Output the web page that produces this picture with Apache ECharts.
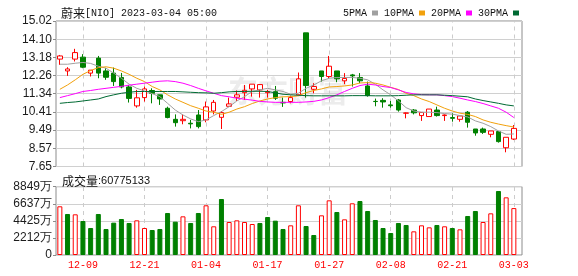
<!DOCTYPE html>
<html><head><meta charset="utf-8">
<script src="https://cdn.jsdelivr.net/npm/echarts@6.0.0/dist/echarts.min.js"></script>
<style>html,body{margin:0;padding:0;background:#fff}#c{width:578px;height:276px}</style>
</head><body><div id="c"></div>
<script>
const dates = ['12-06','12-07','12-08','12-09','12-12','12-13','12-14','12-15','12-16','12-19','12-20','12-21','12-22','12-23','12-27','12-28','12-29','12-30',
'01-03','01-04','01-05','01-06','01-09','01-10','01-11','01-12','01-13','01-17','01-18','01-19','01-20','01-23','01-24','01-25','01-26','01-27','01-30','01-31',
'02-01','02-02','02-03','02-06','02-07','02-08','02-09','02-10','02-13','02-14','02-15','02-16','02-17','02-21','02-22','02-23','02-24','02-27','02-28',
'03-01','03-02','03-03'];
const openP  = [13.09,12.49,13.09,13.19,12.38,13.14,12.49,12.38,12.16,11.68,10.72,11.14,11.50,11.28,10.60,10.04,9.97,9.84,10.26,10.01,
10.46,10.14,10.70,11.16,11.39,11.58,11.53,11.39,11.44,10.90,10.94,11.28,14.42,11.56,12.49,12.21,12.49,11.99,12.29,12.16,
11.73,10.95,11.00,10.77,11.02,10.35,10.51,10.23,10.18,10.51,10.23,10.13,10.04,10.40,9.55,9.55,9.28,9.42,8.60,9.04];
const closeP = [13.25,12.59,13.42,12.68,12.53,12.38,12.17,11.95,11.68,11.10,11.13,11.58,11.36,11.07,10.13,9.87,10.04,9.81,9.67,10.67,
10.90,10.38,10.82,11.28,11.51,11.82,11.80,11.44,11.11,10.87,11.14,12.09,11.75,11.70,12.21,12.73,12.09,12.11,12.24,11.99,
11.24,10.94,10.92,10.73,10.51,10.36,10.37,10.39,10.56,10.23,10.26,10.09,10.21,9.89,9.35,9.38,9.45,8.91,9.13,9.58];
const lowP   = [12.80,12.24,12.97,12.63,12.21,12.12,12.04,11.73,11.61,10.89,10.63,10.94,10.85,10.77,10.09,9.67,9.79,9.58,9.58,9.89,
10.29,9.55,10.70,10.97,11.02,11.19,11.14,11.14,11.02,10.67,10.85,11.24,11.14,11.36,11.95,12.09,11.92,11.82,11.70,11.87,
11.19,10.70,10.63,10.63,10.43,10.09,10.29,9.96,10.18,10.18,9.96,9.92,9.92,9.62,9.21,9.30,9.13,8.86,8.37,8.99];
const highP  = [13.30,12.68,13.61,13.34,12.53,13.25,12.63,12.66,12.39,11.78,11.53,11.70,11.61,11.28,10.68,10.29,10.29,10.01,10.51,10.94,
11.02,10.46,11.14,11.50,11.78,11.82,11.82,11.53,11.73,11.14,11.24,12.41,14.42,11.87,12.49,13.25,12.49,12.38,12.34,12.38,
11.95,11.09,11.11,10.97,11.07,10.38,10.56,10.39,10.56,10.68,10.29,10.35,10.21,10.46,9.55,9.62,9.45,9.42,9.13,9.75];
// volume in 万 (10k shares)
const volume = [6310,5312,5270,4405,3498,5312,3369,4189,4664,4146,4491,3498,3239,3369,5442,4318,5010,4146,5442,6439,
3718,7255,4275,4491,4275,4016,4146,4923,4448,3369,3843,6439,3757,2591,5139,7083,5571,4621,6698,6996,
5701,4535,3498,2850,4146,3887,3066,3843,3584,3887,3718,3498,3325,5053,5701,4275,5399,8292,7471,6077.5133];
const ma5  = [12.83,12.83,12.88,12.92,12.87,12.73,12.63,12.38,12.12,11.82,11.61,11.48,11.34,11.19,10.85,10.51,10.26,10.06,9.92,10.01,
10.23,10.43,10.68,10.97,11.19,11.45,11.53,11.61,11.53,11.45,11.31,11.36,11.61,11.78,11.99,12.12,12.16,12.16,12.16,12.12,
12.04,11.82,11.53,11.28,10.97,10.63,10.46,10.40,10.40,10.38,10.33,10.30,10.23,10.16,9.96,9.84,9.67,9.45,9.28,9.30];
const ma10 = [11.56,11.78,12.04,12.32,12.51,12.66,12.70,12.63,12.49,12.32,12.12,11.95,11.70,11.53,11.28,11.07,10.90,10.73,10.60,10.46,
10.40,10.29,10.40,10.56,10.68,10.84,10.97,11.07,11.14,11.18,11.19,11.23,11.39,11.50,11.58,11.68,11.70,11.73,11.78,11.88,
11.90,11.87,11.78,11.66,11.55,11.36,11.24,11.07,10.94,10.77,10.60,10.46,10.35,10.29,10.18,10.01,9.89,9.80,9.72,9.65];
const ma20 = [11.14,11.24,11.34,11.45,11.50,11.56,11.61,11.66,11.71,11.77,11.82,11.87,11.92,11.97,11.99,11.95,11.87,11.75,11.61,11.48,
11.36,11.24,11.18,11.11,11.06,11.01,10.95,10.92,10.90,10.90,10.90,10.90,10.92,10.95,11.02,11.14,11.28,11.45,11.61,11.75,
11.82,11.78,11.70,11.65,11.53,11.40,11.33,11.29,11.28,11.28,11.24,11.19,11.11,11.02,10.94,10.84,10.72,10.60,10.40,10.13];
const ma30 = [10.85,10.89,10.92,10.97,11.02,11.07,11.19,11.28,11.36,11.41,11.45,11.45,11.45,11.45,11.45,11.45,11.43,11.41,11.39,11.38,
11.36,11.39,11.43,11.45,11.45,11.46,11.46,11.45,11.38,11.31,11.28,11.26,11.24,11.23,11.23,11.23,11.23,11.23,11.24,11.24,
11.24,11.23,11.23,11.23,11.24,11.26,11.28,11.28,11.28,11.28,11.26,11.24,11.21,11.18,11.07,10.99,10.92,10.85,10.77,10.72];
const priceTicks = ['7.65','8.57','9.49','10.41','11.34','12.26','13.18','14.10','15.02'];
const volTicks = ['0','2212万','4425万','6637万','8849万'];
const xTickLabels = ['12-09','12-21','01-04','01-17','01-27','02-08','02-21','03-03'];
const maNames = ['5PMA','10PMA','20PMA','30PMA'];
const titleName = '蔚来';
const titleRest = '[NIO] 2023-03-04 05:00';
const volLabel = '成交量';
const lastVolume = '60775133';

const RED = '#ff0000', GREEN = '#008000';
const maColors = ['#a0a0a0','#f2a10c','#ff00ff','#006a33'];
const maData = [ma5, ma10, ma20, ma30];

const kData = dates.map((d,i)=>[openP[i], closeP[i], lowP[i], highP[i]]);
const volData = volume.map((v,i)=>{
  const up = i===0 ? closeP[i]>=openP[i] : closeP[i]>=closeP[i-1];
  return {value: v, itemStyle: up ? {color:'#ffffff', borderColor:RED, borderWidth:1} : {color:GREEN, borderColor:GREEN, borderWidth:1}};
});

const P_MIN = 7.65, P_MAX = 15.02, P_INT = (15.02-7.65)/8;
const V_MAX = 8849, V_INT = 8849/4;
const L = 56, FW = 466, DW = 461.7;
const MT = 21, MH = 145.5, VT = 186.7, VH = 68.3;

const vLines = {
  silent:true, symbol:['none','none'], z:1, animation:false,
  label:{show:false}, emphasis:{disabled:true},
  lineStyle:{type:[4,4], color:'#cccccc', width:1},
  data: xTickLabels.map(d=>({xAxis:d}))
};
const txt = (fam, size)=>({fontFamily:fam, fontSize:size, color:'#111', fontWeight:'normal'});

const chart = echarts.init(document.getElementById('c'), null, {renderer:'canvas'});
chart.setOption({
  animation:false,
  backgroundColor:'#ffffff',
  title:[
    {left:56, top:2, text:'{a|'+titleName+'}{b|'+titleRest+'}',
     textStyle:{fontWeight:'normal', rich:{a:txt('Noto Sans CJK SC',12), b:txt('Liberation Mono',10)}}},
    {left:57, top:170, text:'{a|'+volLabel+'}{b|:'+lastVolume+'}',
     textStyle:{fontWeight:'normal', rich:{a:txt('Noto Sans CJK SC',12), b:txt('Liberation Sans',11)}}}
  ],
  legend:{
    left:338, top:3, itemGap:6, itemWidth:6, itemHeight:5, align:'right',
    selectedMode:false,
    textStyle:{fontFamily:'Liberation Mono', fontSize:10, color:'#111', padding:[0,0,0,0]},
    data: maNames.map((n,k)=>({name:n, icon:'rect', itemStyle:{color:maColors[k]}}))
  },
  graphic:[{type:'text', left:228, top:76, z:0, silent:true,
    style:{text:'东方财富', fill:'#ececec', font:'bold 30px "Noto Sans CJK SC"'}}],
  grid:[
    {left:L, top:MT, width:FW, height:MH, show:true, borderColor:'#8c8c8c', borderWidth:1},
    {left:L, top:MT, width:DW, height:MH},
    {left:L, top:VT, width:FW, height:VH, show:true, borderColor:'#8c8c8c', borderWidth:1},
    {left:L, top:VT, width:DW, height:VH}
  ],
  xAxis:[
    {gridIndex:0, type:'category', data:[''], show:false},
    {gridIndex:1, type:'category', data:dates, axisLine:{show:false}, axisTick:{show:false}, axisLabel:{show:false}, splitLine:{show:false}},
    {gridIndex:2, type:'category', data:[''], show:false},
    {gridIndex:3, type:'category', data:dates, axisLine:{show:false}, axisTick:{show:false}, splitLine:{show:false},
     axisLabel:{show:true, margin:5, color:RED, fontFamily:'Liberation Mono', fontSize:10,
       interval:(idx,val)=>xTickLabels.indexOf(val)>=0}}
  ],
  yAxis:[
    {gridIndex:0, type:'value', min:P_MIN, max:P_MAX, interval:P_INT, scale:true,
     axisLine:{show:false}, axisTick:{show:true, length:3, lineStyle:{color:'#8c8c8c'}},
     axisLabel:{margin:4, color:'#1c1c1c', fontFamily:'Liberation Sans', fontSize:12, formatter:(v,i)=>priceTicks[i]},
     splitLine:{show:true, lineStyle:{color:'#d0d0d0', width:1}}},
    {gridIndex:1, type:'value', min:P_MIN, max:P_MAX, show:false, splitLine:{show:false}},
    {gridIndex:2, type:'value', min:0, max:V_MAX, interval:V_INT,
     axisLine:{show:false}, axisTick:{show:true, length:3, lineStyle:{color:'#8c8c8c'}},
     axisLabel:{margin:4, color:'#1c1c1c', fontFamily:'Liberation Sans', fontSize:12, formatter:(v,i)=>volTicks[i]},
     splitLine:{show:true, lineStyle:{color:'#d0d0d0', width:1}}},
    {gridIndex:3, type:'value', min:0, max:V_MAX, show:false, splitLine:{show:false}}
  ],
  series:[
    {type:'candlestick', name:'K', xAxisIndex:1, yAxisIndex:1, data:kData, barWidth:5,
     itemStyle:{color:'#ffffff', color0:GREEN, borderColor:RED, borderColor0:GREEN, borderWidth:1},
     markLine:vLines},
    ...maNames.map((n,k)=>({type:'line', name:n, xAxisIndex:1, yAxisIndex:1, data:maData[k], showSymbol:false, symbol:'none',
      color:maColors[k], lineStyle:{width:1, color:maColors[k]}, z:3})),
    {type:'bar', name:'VOL', xAxisIndex:3, yAxisIndex:3, data:volData, barWidth:5, markLine:vLines}
  ]
});
</script></body></html>
